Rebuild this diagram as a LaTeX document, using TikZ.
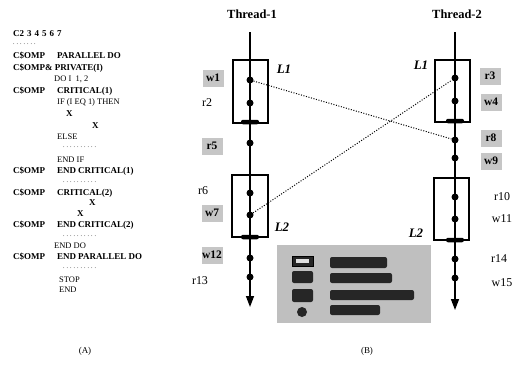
\documentclass[tikz,border=0pt]{standalone}
\usepackage{fontspec}
\setmainfont{Liberation Serif}
\usetikzlibrary{arrows.meta}
\begin{document}
\begin{tikzpicture}[x=1bp,y=-1bp,
  code/.style={anchor=west,inner sep=0,font=\fontsize{9}{10}\selectfont\bfseries},
  codep/.style={anchor=west,inner sep=0,font=\fontsize{8.5}{10}\selectfont},
  dotrow/.style={anchor=west,inner sep=0,font=\fontsize{6}{6}\selectfont},
  ev/.style={circle,fill=black,inner sep=0,minimum size=7bp},
  lockbar/.style={rectangle,rounded corners=2bp,fill=black,inner sep=0,minimum width=18bp,minimum height=4.5bp},
  lbl/.style={font=\fontsize{12}{13}\selectfont,inner sep=0},
  slbl/.style={font=\fontsize{11.5}{12}\selectfont\bfseries,fill=gray!45,inner sep=0,minimum width=21bp,minimum height=17bp},
  lk/.style={font=\fontsize{13}{14}\selectfont\bfseries\itshape,inner sep=0},
  lockbox/.style={draw,line width=1.3bp,inner sep=0},
  axis/.style={line width=1.4bp,-{Triangle[width=8bp,length=11bp]}},
  msg/.style={line width=1bp,dash pattern=on 1bp off 1.6bp},
  title/.style={font=\fontsize{12.5}{13}\selectfont\bfseries,inner sep=0},
  blob/.style={fill=black!85,rounded corners=2bp,inner sep=0},
]
\useasboundingbox (0,0) rectangle (523,364);

% ---------- (A) code ----------
\def\ctab{\hspace{12bp}}
\node[code] (c1) at (13,34) {C2\,\,3\,\,4\,\,5\,\,6\,\,7};
\node[dotrow] (c2) at (13,44) {. . . . . . .};
\node[code] (c3) at (13,56) {C\$OMP\ctab PARALLEL DO};
\node[code] (c4) at (13,68) {C\$OMP\& PRIVATE(I)};
\node[codep] (c5) at (54,79) {DO I \ 1, 2};
\node[code] (c6) at (13,91) {C\$OMP\ctab CRITICAL(1)};
\node[codep] (c7) at (57,102) {IF (I EQ 1) THEN};
\node[code] (c8) at (66,114) {X};
\node[code] (c9) at (92,126) {X};
\node[codep] (c10) at (57,137) {ELSE};
\node[dotrow] (c11) at (63,147) {. . . . . . . . . .};
\node[codep] (c12) at (57,160) {END IF};
\node[code] (c13) at (13,171) {C\$OMP\ctab END CRITICAL(1)};
\node[dotrow] (c14) at (63,182) {. . . . . . . . . .};
\node[code] (c15) at (13,193) {C\$OMP\ctab CRITICAL(2)};
\node[code] (c16) at (89,203) {X};
\node[code] (c17) at (77,214) {X};
\node[code] (c18) at (13,225) {C\$OMP\ctab END CRITICAL(2)};
\node[dotrow] (c19) at (63,236) {. . . . . . . . . .};
\node[codep] (c20) at (54,246) {END DO};
\node[code] (c21) at (13,257) {C\$OMP\ctab END PARALLEL DO};
\node[dotrow] (c22) at (63,268) {. . . . . . . . . .};
\node[codep] (c23) at (59,280) {STOP};
\node[codep] (c24) at (59,290) {END};
\node[font=\fontsize{9}{10}\selectfont] (capA) at (85,351) {(A)};

% ---------- (B) threads ----------
\node[title] (th1) at (252,14) {Thread-1};
\node[title] (th2) at (457,14) {Thread-2};

\coordinate (t1top) at (250,32);
\coordinate (t1bot) at (250,307);
\coordinate (t2top) at (455,32);
\coordinate (t2bot) at (455,310);

% lock boxes
\node[lockbox,minimum width=35bp,minimum height=63bp] (b1a) at (250.5,91.5) {};
\node[lockbox,minimum width=36bp,minimum height=62bp] (b1b) at (250,206) {};
\node[lockbox,minimum width=35bp,minimum height=62bp] (b2a) at (452.5,91) {};
\node[lockbox,minimum width=35bp,minimum height=62bp] (b2b) at (451.5,209) {};

\draw[axis] (t1top) -- (t1bot);
\draw[axis] (t2top) -- (t2bot);

% lock release bars
\node[lockbar] (bar1a) at (250,122) {};
\node[lockbar] (bar1b) at (250,237) {};
\node[lockbar] (bar2a) at (455,121) {};
\node[lockbar] (bar2b) at (455,240) {};

% events thread 1
\node[ev] (e1) at (250,80) {};
\node[ev] (e2) at (250,103) {};
\node[ev] (e5) at (250,143) {};
\node[ev] (e6) at (250,193) {};
\node[ev] (e7) at (250,215) {};
\node[ev] (e12) at (250,258) {};
\node[ev] (e13) at (250,277) {};
% events thread 2
\node[ev] (e3) at (455,78) {};
\node[ev] (e4) at (455,101) {};
\node[ev] (e8) at (455,140) {};
\node[ev] (e9) at (455,158) {};
\node[ev] (e10) at (455,197) {};
\node[ev] (e11) at (455,219) {};
\node[ev] (e14) at (455,259) {};
\node[ev] (e15) at (455,278) {};

% dependences
\draw[msg] (e1) -- (e8);
\draw[msg] (e7) -- (e3);

% lock labels
\node[lk] (L1a) at (284,69) {L1};
\node[lk] (L2a) at (282,227) {L2};
\node[lk] (L1b) at (421,65) {L1};
\node[lk] (L2b) at (416,233) {L2};

% labels thread 1
\node[slbl] (l1) at (213,78) {w1};
\node[lbl] (l2) at (207,103) {r2};
\node[slbl] (l5) at (212,146) {r5};
\node[lbl] (l6) at (203,191) {r6};
\node[slbl] (l7) at (212,213) {w7};
\node[slbl] (l12) at (212,255) {w12};
\node[lbl] (l13) at (200,281) {r13};
% labels thread 2
\node[slbl] (l3) at (490,76) {r3};
\node[slbl] (l4) at (491,102) {w4};
\node[slbl] (l8) at (491,138) {r8};
\node[slbl] (l9) at (491,161) {w9};
\node[lbl] (l10) at (502,197) {r10};
\node[lbl] (l11) at (502,219) {w11};
\node[lbl] (l14) at (499,259) {r14};
\node[lbl] (l15) at (502,283) {w15};

% legend
\node[fill=gray!50,inner sep=0,minimum width=154bp,minimum height=78bp] (legend) at (354,284) {};
\draw[fill=black!85] (292,256) rectangle (313,266);
\fill[gray!25] (296,259) rectangle (309,263);
\fill[blob] (292,271) rectangle (313,283);
\fill[blob] (292,289) rectangle (313,302);
\fill[black!85] (302,312) circle (5bp);
\fill[blob] (330,257) rectangle (387,268);
\fill[blob] (330,273) rectangle (392,283);
\fill[blob] (330,290) rectangle (414,300);
\fill[blob] (330,305) rectangle (380,315);

\node[font=\fontsize{9}{10}\selectfont] (capB) at (367,351) {(B)};
\end{tikzpicture}
\end{document}
